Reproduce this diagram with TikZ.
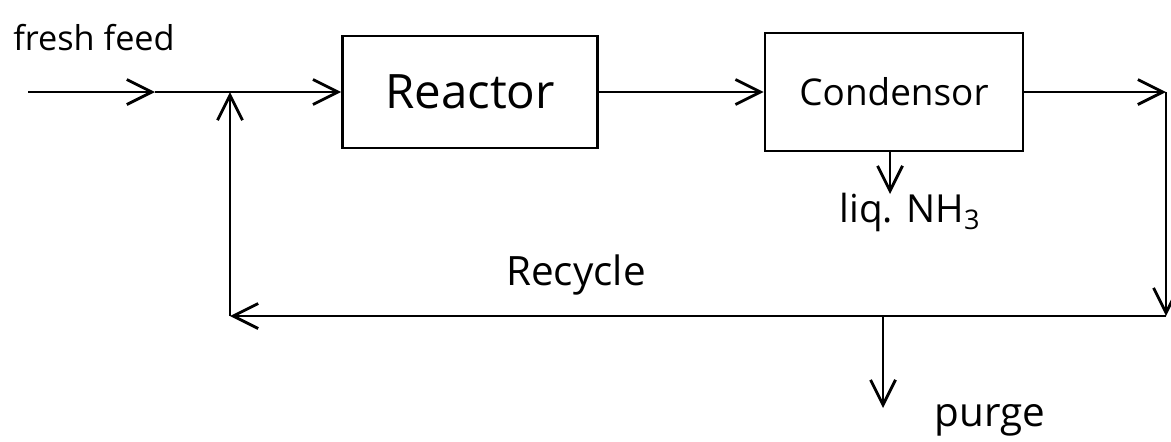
\documentclass[tikz,border=0pt]{standalone}
\usepackage{fontspec}
\setmainfont{Open Sans}
\usetikzlibrary{arrows.meta, positioning}

\tikzset{
    procbox/.style={draw, line width=1.6pt, inner sep=0pt},
    flow/.style={line width=1.6pt, -{Straight Barb[length=5mm, width=5mm, line width=1.6pt]}},
    lbl/.style={inner sep=0pt}
}

\begin{document}
\begin{tikzpicture}[x=0.02cm, y=-0.02cm]
    \useasboundingbox (0,0) rectangle (1171,441);

    % Process units
    \node[procbox, minimum width=5.1cm, minimum height=2.24cm, font=\fontsize{27}{32}\selectfont] (reactor) at (470,92) {Reactor};
    \node[procbox, minimum width=5.16cm, minimum height=2.36cm, font=\fontsize{21}{25}\selectfont] (condensor) at (894,92) {Condensor};

    % Labels
    \node[lbl, font=\fontsize{19.5}{23}\selectfont] (feedlbl) at (94,38) {fresh feed};
    \node[lbl, font=\fontsize{23}{27}\selectfont] (recyclelbl) at (576,275) {Recycle};
    \node[lbl, font=\fontsize{22}{26}\selectfont] (liqlbl) at (910,212) {liq. NH\textsubscript{3}};
    \node[lbl, font=\fontsize{23}{27}\selectfont] (purgelbl) at (990,420) {purge};

    % Stream points
    \coordinate (feed) at (28,92);
    \coordinate (feedmid) at (155,92);
    \coordinate (mix) at (230,92);
    \coordinate (outlet) at (1166,92);
    \coordinate (botright) at (1166,316);
    \coordinate (botleft) at (230,316);
    \coordinate (liqend) at (890,194);
    \coordinate (purgeend) at (883,408);

    % Forward streams
    \draw[flow] (feed) -- (feedmid);
    \draw[flow] (feedmid) -- (reactor.west);
    \draw[flow] (reactor.east) -- (condensor.west);
    \draw[flow] (condensor.east) -- (outlet);
    \draw[flow] (condensor.south -| liqend) -- (liqend);

    % Recycle loop
    \draw[flow] (outlet) -- (botright);
    \draw[flow] (botright) -- (botleft);
    \draw[flow] (botleft) -- (mix);
    \draw[flow] (purgeend |- botright) -- (purgeend);
\end{tikzpicture}
\end{document}
